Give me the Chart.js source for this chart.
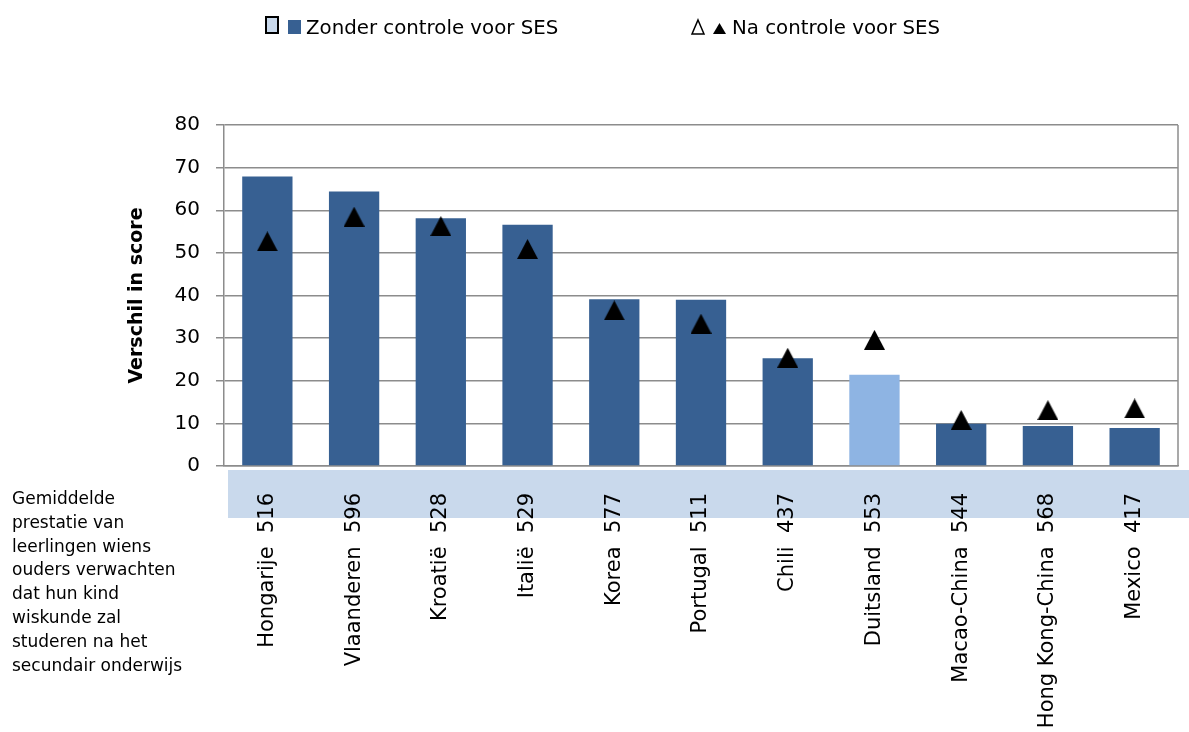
<!DOCTYPE html>
<html lang="nl">
<head>
<meta charset="utf-8">
<title>Verschil in score</title>
<script src="https://cdn.jsdelivr.net/npm/chart.js@4/dist/chart.umd.min.js"></script>
<style>
  html, body { margin: 0; padding: 0; background: #fff; }
  #wrap { position: relative; width: 1189px; height: 732px; }
</style>
</head>
<body>
<div id="wrap"><canvas id="chart"></canvas></div>
<script>
/* Gemiddelde prestatie + verschil in score, met/zonder controle voor SES */
const categories = ['Hongarije', 'Vlaanderen', 'Kroatië', 'Italië', 'Korea', 'Portugal', 'Chili', 'Duitsland', 'Macao-China', 'Hong Kong-China', 'Mexico'];
const scores = [516, 596, 528, 529, 577, 511, 437, 553, 544, 568, 417];
const zonderSES = [67.9, 64.4, 58.1, 56.6, 39.1, 39.0, 25.3, 21.4, 9.9, 9.4, 8.9];
const naSES = [52.7, 58.5, 56.3, 50.9, 36.5, 33.4, 25.4, 29.6, 10.8, 13.1, 13.5];
const highlighted = ['Duitsland'];
const yTicks = [0, 10, 20, 30, 40, 50, 60, 70, 80];
const sideNote = ['Gemiddelde', 'prestatie van', 'leerlingen wiens', 'ouders verwachten', 'dat hun kind', 'wiskunde zal', 'studeren na het', 'secundair onderwijs'];

const DARK = '#376092';
const LIGHT = '#8eb4e3';
const BAND = '#c9d9ec';
const GRID = '#8c8c8c';
const FONT = '"DejaVu Sans", sans-serif';

const labels = categories.map(function (c, i) { return c + '  ' + scores[i]; });
const barColors = categories.map(function (c) { return highlighted.indexOf(c) >= 0 ? LIGHT : DARK; });

// driehoek-marker, gecentreerd op zijn omhullende (zoals Excel)
function makeTriangle(w, h) {
  const c = document.createElement('canvas');
  c.width = w; c.height = h;
  const g = c.getContext('2d');
  g.fillStyle = '#000';
  g.beginPath();
  g.moveTo(w / 2, 0);
  g.lineTo(w, h);
  g.lineTo(0, h);
  g.closePath();
  g.fill();
  return c;
}
const triImg = makeTriangle(21, 20);

const decor = {
  id: 'decor',
  beforeDraw: function (chart) {
    const ctx = chart.ctx;
    const area = chart.chartArea;
    ctx.save();
    // lichtblauwe band achter de categorielabels
    ctx.fillStyle = BAND;
    ctx.fillRect(area.left + 4, area.bottom + 4, chart.width - area.left - 4, 48);

    // toelichting links
    ctx.fillStyle = '#000';
    ctx.font = '17px ' + FONT;
    ctx.textBaseline = 'alphabetic';
    sideNote.forEach(function (line, i) {
      ctx.fillText(line, 12, 504 + i * 23.8);
    });

    // legende
    ctx.font = '19.8px ' + FONT;
    ctx.fillStyle = BAND;
    ctx.fillRect(266, 17, 12, 16);
    ctx.strokeStyle = '#000';
    ctx.lineWidth = 2;
    ctx.strokeRect(266, 17, 12, 16);
    ctx.fillStyle = DARK;
    ctx.fillRect(288, 20, 13, 14);
    ctx.fillStyle = '#000';
    ctx.fillText('Zonder controle voor SES', 306, 34);

    ctx.lineWidth = 1.5;
    ctx.beginPath();
    ctx.moveTo(698, 20);
    ctx.lineTo(704, 34);
    ctx.lineTo(692, 34);
    ctx.closePath();
    ctx.stroke();
    ctx.beginPath();
    ctx.moveTo(719.5, 23);
    ctx.lineTo(726, 34);
    ctx.lineTo(713, 34);
    ctx.closePath();
    ctx.fill();
    ctx.fillText('Na controle voor SES', 732, 34);
    ctx.restore();
  },
  afterDraw: function (chart) {
    const ctx = chart.ctx;
    const area = chart.chartArea;
    ctx.save();
    ctx.strokeStyle = GRID;
    ctx.lineWidth = 1.5;
    ctx.beginPath();
    ctx.moveTo(area.right, area.top);
    ctx.lineTo(area.right, area.bottom);
    ctx.stroke();
    ctx.restore();
  }
};

new Chart(document.getElementById('chart'), {
  type: 'bar',
  data: {
    labels: labels,
    datasets: [
      {
        type: 'line',
        label: 'Na controle voor SES',
        data: naSES,
        showLine: false,
        pointStyle: triImg,
        pointRadius: 10,
        order: 0
      },
      {
        label: 'Zonder controle voor SES',
        data: zonderSES,
        backgroundColor: barColors,
        borderWidth: 0,
        barPercentage: 0.58,
        categoryPercentage: 1,
        order: 1
      }
    ]
  },
  options: {
    responsive: true,
    maintainAspectRatio: false,
    animation: false,
    layout: { padding: { top: 125, right: 5, left: 0, bottom: 0 } },
    plugins: { legend: { display: false }, tooltip: { enabled: false } },
    scales: {
      x: {
        grid: { display: false, drawTicks: false },
        border: { display: true, color: GRID, width: 1.5 },
        ticks: {
          color: '#000',
          font: { family: FONT, size: 21 },
          minRotation: 90,
          maxRotation: 90,
          autoSkip: false,
          padding: 27
        },
        afterFit: function (s) { s.height = 266; }
      },
      y: {
        min: 0,
        max: 80,
        afterBuildTicks: function (s) { s.ticks = yTicks.map(function (v) { return { value: v }; }); },
        grid: { color: GRID, lineWidth: 1.5, tickLength: 8 },
        border: { display: true, color: GRID, width: 1.5 },
        ticks: { color: '#000', font: { family: FONT, size: 20 }, padding: 16 },
        title: {
          display: true,
          text: 'Verschil in score',
          color: '#000',
          font: { family: FONT, size: 19, weight: 'bold' },
          padding: { top: 125.6, bottom: 0 }
        },
        afterFit: function (s) { s.width = 224; }
      }
    }
  },
  plugins: [decor]
});
</script>
</body>
</html>
